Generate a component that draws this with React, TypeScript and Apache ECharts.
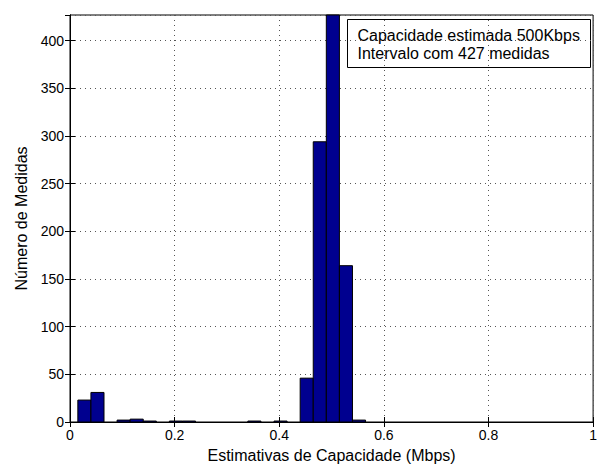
import React, { useEffect, useRef } from "react";
import * as echarts from "echarts";

// Histogram bins: [start, end] in Mbps and counts
const binStarts = [0.015, 0.04, 0.09, 0.115, 0.14, 0.19, 0.215, 0.34, 0.39, 0.44, 0.465, 0.49, 0.515, 0.54];
const binWidth = 0.025;
const counts = [23, 31, 2, 3, 1, 1, 1, 1, 1, 46, 294, 427, 164, 2];
const xTicks = [0, 0.2, 0.4, 0.6, 0.8, 1];
const yMax = 427;
const legendLines = ["Capacidade estimada 500Kbps", "Intervalo com 427 medidas"];
const xTitle = "Estimativas de Capacidade (Mbps)";
const yTitle = "Número de Medidas";

const FONT = "'Liberation Sans', Arial, Helvetica, sans-serif";
const FS = 16;
const TS = 14;

export default function App() {
  const ref = useRef<HTMLDivElement>(null);
  useEffect(() => {
    document.body.style.margin = "0";
    if (!ref.current) return;
    const chart = echarts.init(ref.current, undefined, { renderer: "svg" });
    const data = binStarts.map((s, i) => [s, s + binWidth, counts[i]]);
    const grid = { left: 70, right: 5, top: 15, bottom: 42, show: true, borderColor: "#000", borderWidth: 1, backgroundColor: "#fff" };
    const splitLine = { show: true, lineStyle: { color: "#555", type: [1, 4] as any, width: 1 } };
    chart.setOption({
      animation: false,
      backgroundColor: "#fff",
      textStyle: { fontFamily: FONT },
      grid,
      xAxis: [
        {
          type: "value", min: 0, max: 1, interval: 0.2, position: "bottom",
          axisLine: { show: true, lineStyle: { color: "#000" } },
          axisTick: { show: true, inside: true, length: 5, lineStyle: { color: "#000" } },
          axisLabel: { color: "#000", fontSize: TS, fontFamily: FONT, margin: 6,
            formatter: (v: number) => (xTicks.some((t) => Math.abs(t - v) < 1e-9) ? String(+v.toFixed(1)) : "") },
          splitLine,
          name: xTitle, nameLocation: "middle", nameGap: 25,
          nameTextStyle: { color: "#000", fontSize: FS, fontFamily: FONT },
        },
        {
          type: "value", min: 0, max: 1, interval: 0.2, position: "top",
          axisLine: { show: true, lineStyle: { color: "#000" } },
          axisTick: { show: true, inside: true, length: 5, lineStyle: { color: "#000" } },
          axisLabel: { show: false }, splitLine: { show: false },
        },
      ],
      yAxis: [
        {
          type: "value", min: 0, max: yMax, interval: 50, position: "left",
          axisLine: { show: true, lineStyle: { color: "#000" } },
          axisTick: { show: true, inside: true, length: 5, lineStyle: { color: "#000" } },
          axisLabel: { color: "#000", fontSize: TS, fontFamily: FONT, margin: 6, showMaxLabel: false,
            formatter: (v: number) => (v % 50 === 0 ? String(v) : "") },
          splitLine,
          name: yTitle, nameLocation: "middle", nameGap: 39,
          nameTextStyle: { color: "#000", fontSize: FS, fontFamily: FONT },
        },
        {
          type: "value", min: 0, max: yMax, interval: 50, position: "right",
          axisLine: { show: true, lineStyle: { color: "#000" } },
          axisTick: { show: true, inside: true, length: 5, lineStyle: { color: "#000" } },
          axisLabel: { show: false }, splitLine: { show: false },
        },
      ],
      series: [
        {
          type: "custom",
          xAxisIndex: 0, yAxisIndex: 0,
          data,
          renderItem: (params: any, api: any) => {
            const p0 = api.coord([api.value(0), api.value(2)]);
            const p1 = api.coord([api.value(1), 0]);
            return {
              type: "rect",
              shape: { x: p0[0], y: p0[1], width: p1[0] - p0[0], height: p1[1] - p0[1] },
              style: { fill: "#00008F", stroke: "#000", lineWidth: 1 },
            };
          },
        },
      ],
      graphic: [
        {
          type: "group", left: 347, top: 19,
          children: [
            { type: "rect", shape: { x: 0, y: 0, width: 243, height: 48 }, style: { fill: "#fff", stroke: "#000", lineWidth: 1 } },
            { type: "text", x: 10, y: 16, style: { text: legendLines[0], fill: "#000", font: `${FS}px ${FONT}`, verticalAlign: "middle" } },
            { type: "text", x: 10, y: 34, style: { text: legendLines[1], fill: "#000", font: `${FS}px ${FONT}`, verticalAlign: "middle" } },
          ],
        },
      ],
    });
    return () => chart.dispose();
  }, []);
  return <div ref={ref} style={{ width: 600, height: 468 }} />;
}
